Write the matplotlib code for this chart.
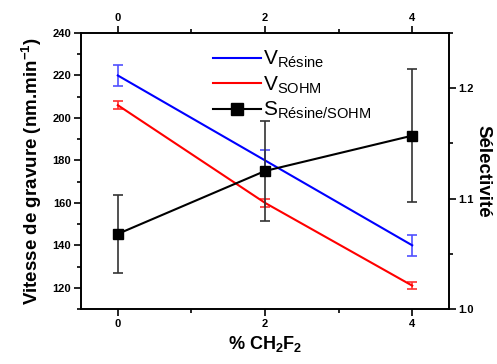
import matplotlib
matplotlib.use("Agg")
import matplotlib.pyplot as plt
from matplotlib.lines import Line2D
from matplotlib.ticker import MultipleLocator

plt.rcParams['font.family'] = ['Liberation Sans', 'DejaVu Sans']
plt.rcParams['mathtext.fontset'] = 'custom'
plt.rcParams['mathtext.rm'] = 'Liberation Sans'
plt.rcParams['mathtext.it'] = 'Liberation Sans'
plt.rcParams['mathtext.bf'] = 'Liberation Sans:bold'

x = [0, 2, 4]
v_resine = [220, 180, 140]
v_resine_err = [5, 5, 5]
v_sohm = [206, 160, 121]
v_sohm_err = [2, 2, 1.5]
s_sel = [1.068, 1.125, 1.157]
s_sel_err = [0.035, 0.045, 0.06]

fig = plt.figure(figsize=(4.97, 3.64), dpi=100)
ax = fig.add_axes([81/497, 1-309/364, (449-81)/497, (309-33)/364])
ax2 = ax.twinx()

ax.errorbar(x, v_resine, yerr=v_resine_err, color='#0000ff', lw=1.5,
            ecolor='#5050ff', elinewidth=1.2, capsize=3.5, capthick=1.2)
ax.errorbar(x, v_sohm, yerr=v_sohm_err, color='#ff0000', lw=1.5,
            ecolor='#ff3030', elinewidth=1.2, capsize=3.5, capthick=1.2)
ax2.errorbar(x, s_sel, yerr=s_sel_err, color='black', lw=1.5, marker='s',
             ms=7, ecolor='#333333', elinewidth=1.2, capsize=3.5, capthick=1.2)

ax.set_xlim(-0.5, 4.5)
ax.set_ylim(110, 240)
ax2.set_ylim(1.0, 1.25)

ax.set_xticks([0, 2, 4])
ax.xaxis.set_minor_locator(MultipleLocator(1))
ax.yaxis.set_major_locator(MultipleLocator(20))
ax.yaxis.set_minor_locator(MultipleLocator(10))
ax2.yaxis.set_major_locator(MultipleLocator(0.1))
ax2.yaxis.set_minor_locator(MultipleLocator(0.05))
ax2.set_yticks([1.0, 1.1, 1.2])
ax2.set_yticklabels(['1.0', '1.1', '1.2'])

ax.tick_params(axis='both', which='both', direction='out', width=1.2,
               labelsize=8, top=True, labeltop=True, pad=2)
ax.tick_params(which='major', length=5)
ax.tick_params(which='minor', length=3)
ax2.tick_params(axis='y', which='both', direction='out', width=1.2, labelsize=8, pad=1.5)
ax2.tick_params(which='major', length=5)
ax2.tick_params(which='minor', length=3)
for a in (ax, ax2):
    for lab in a.get_xticklabels() + a.get_yticklabels():
        lab.set_fontweight('bold')
    for s in a.spines.values():
        s.set_linewidth(1.2)

ax.set_xlabel(r'% CH$_\mathbf{2}$F$_\mathbf{2}$', fontsize=13, fontweight='bold', labelpad=4)
ax.set_ylabel(r'Vitesse de gravure (nm.min$^{\mathbf{-1}}$)', fontsize=13.5, fontweight='bold', labelpad=6)
ax2.set_ylabel('Sélectivité', fontsize=13.5, fontweight='bold', rotation=270, labelpad=13)

handles = [
    Line2D([], [], color='#0000ff', lw=1.5),
    Line2D([], [], color='#ff0000', lw=1.5),
    Line2D([], [], color='black', lw=1.5, marker='s', ms=8),
]
labels = [r'V$_{\mathrm{Résine}}$', r'V$_{\mathrm{SOHM}}$', r'S$_{\mathrm{Résine/SOHM}}$']
ax2.legend(handles, labels, loc='upper left', bbox_to_anchor=(0.32, 0.995),
           frameon=False, fontsize=15, handlelength=2.3, handletextpad=0.1,
           labelspacing=0.2, borderaxespad=0.3)

fig.savefig('out.png', dpi=100)
